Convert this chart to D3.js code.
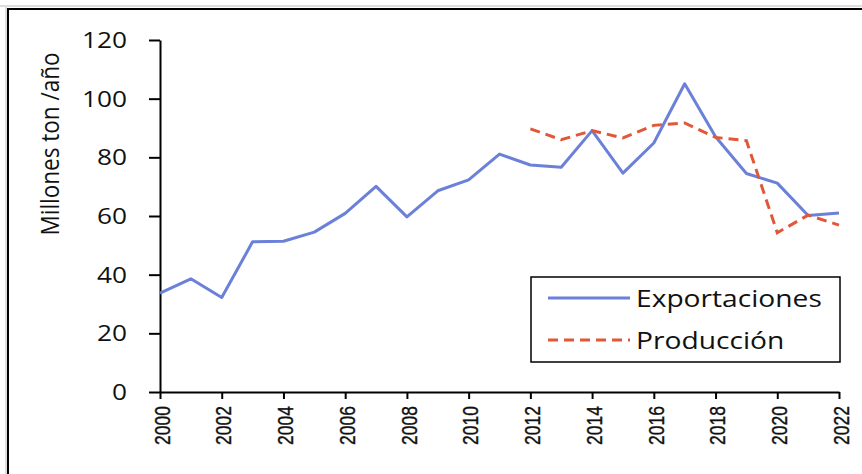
<!DOCTYPE html>
<html><head><meta charset="utf-8">
<script src="https://cdn.jsdelivr.net/npm/d3@7"></script>
<style>body{margin:0;background:#fff}svg{display:block}</style>
</head><body>
<svg id="c" width="862" height="474"></svg>
<script>
const years = d3.range(2000, 2023);
const exportaciones = [33.7,38.6,32.2,51.2,51.4,54.5,60.9,70.1,59.7,68.6,72.3,81.1,77.4,76.6,89.1,74.6,84.9,105.1,87.0,74.5,71.2,60.2,61.0];
const prodYears = d3.range(2012, 2023);
const produccion = [89.7,86.0,89.1,86.6,90.9,91.7,86.8,85.7,54.3,60.3,56.9];
const yTicks = [0,20,40,60,80,100,120];
const xTicks = d3.range(2000, 2023, 2);
const seriesNames = ["Exportaciones","Producción"];

const svg = d3.select("#c");
// outer frame
svg.append("rect").attr("x",0).attr("y",5).attr("width",862).attr("height",2).attr("fill","#ddd");
svg.append("rect").attr("x",5).attr("y",7).attr("width",2).attr("height",467).attr("fill","#ddd");
svg.append("path").attr("d","M8,474V9H862").attr("fill","none").attr("stroke","#000").attr("stroke-width",2);

const x = d3.scaleLinear().domain([2000,2022]).range([160,839]);
const y = d3.scaleLinear().domain([0,120]).range([392,40]);

// y axis
const ya = svg.append("g").attr("transform","translate(160,0)")
  .call(d3.axisLeft(y).tickValues(yTicks).tickSize(11).tickSizeOuter(0).tickPadding(0));
ya.select(".domain").attr("stroke","#000").attr("stroke-width",2);
ya.selectAll(".tick line").attr("stroke","#000").attr("stroke-width",2);
ya.selectAll(".tick text").remove();
ya.selectAll(".tick").append("text")
  .attr("transform","translate(-33,0) scale(1.25,1)")
  .attr("text-anchor","end").attr("dy","0.36em")
  .attr("font-family","Open Sans").attr("font-size",21).attr("fill","#111")
  .text(d=>d);

// x axis
const xa = svg.append("g").attr("transform","translate(0,392)")
  .call(d3.axisBottom(x).tickValues(xTicks).tickSize(7).tickSizeOuter(0).tickFormat(d3.format("d")));
xa.select(".domain").attr("stroke","#000").attr("stroke-width",2);
xa.selectAll(".tick line").attr("stroke","#000").attr("stroke-width",2);
xa.selectAll(".tick text").remove();
xa.selectAll(".tick").append("text")
  .attr("transform","translate(1,14) scale(1.3,1) rotate(-90)")
  .attr("text-anchor","end").attr("dy","0.36em")
  .attr("font-family","Liberation Sans").attr("font-size",17.5).attr("fill","#111")
  .attr("stroke","#111").attr("stroke-width",0.3)
  .text(d=>d);

// y title
svg.append("text")
  .attr("transform","translate(50,144) scale(1.15,1) rotate(-90)")
  .attr("text-anchor","middle").attr("dy","0.35em")
  .attr("font-family","Open Sans").attr("font-size",22.5).attr("fill","#111")
  .text("Millones ton /año");

const line = d3.line().x(d=>x(d[0])).y(d=>y(d[1]));
svg.append("path").datum(years.map((yr,i)=>[yr,exportaciones[i]]))
  .attr("d",line).attr("fill","none").attr("stroke","#6b80d8").attr("stroke-width",3).attr("stroke-linejoin","round");
svg.append("path").datum(prodYears.map((yr,i)=>[yr,produccion[i]]))
  .attr("d",line).attr("fill","none").attr("stroke","#e2573a").attr("stroke-width",3)
  .attr("stroke-dasharray","10,6");

// legend
const lg = svg.append("g");
lg.append("rect").attr("x",531).attr("y",277).attr("width",309).attr("height",85)
  .attr("fill","#fff").attr("stroke","#000").attr("stroke-width",1.5);
const items = [{name:seriesNames[0],color:"#6b80d8",dash:null,yy:298},{name:seriesNames[1],color:"#e2573a",dash:"10,6",yy:340}];
items.forEach(it=>{
  lg.append("line").attr("x1",548).attr("x2",630).attr("y1",it.yy).attr("y2",it.yy)
    .attr("stroke",it.color).attr("stroke-width",3).attr("stroke-dasharray",it.dash);
  lg.append("text").attr("transform",`translate(636,${it.yy}) scale(1.15,1)`).attr("dy","0.35em")
    .attr("font-family","Open Sans").attr("font-size",24.5).attr("fill","#111").text(it.name);
});
</script>
</body></html>
